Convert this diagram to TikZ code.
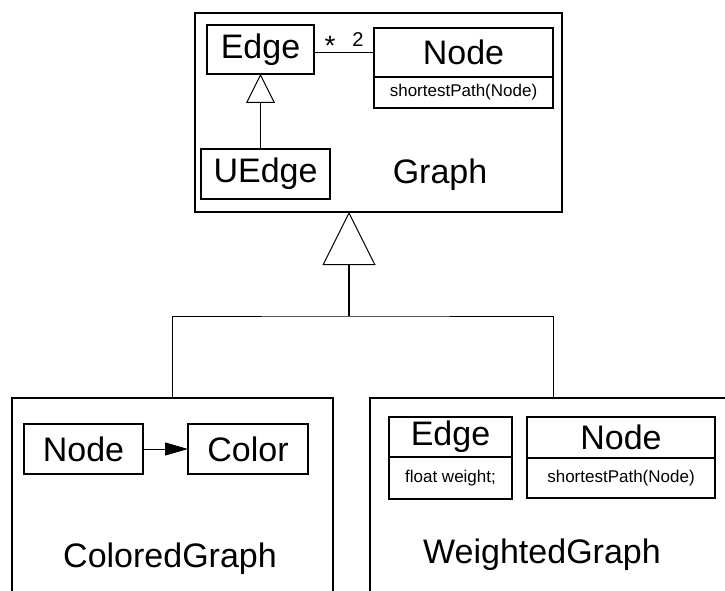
\documentclass[tikz,border=0pt]{standalone}
\usepackage{fontspec}
\setmainfont{Liberation Sans}
\usetikzlibrary{arrows.meta,positioning}

\begin{document}
\begin{tikzpicture}[x=1pt,y=-1pt]
  \tikzset{ContainerStyle/.style = {
    shape         = rectangle,
    draw          = black,
    line width    = 1.8pt,
    inner sep     = 0pt,
    outer sep     = 0pt
    }
  }
  \tikzset{ClassStyle/.style = {
    shape         = rectangle,
    draw          = black,
    fill          = white,
    line width    = 1.5pt,
    text          = black,
    inner sep     = 0pt,
    outer sep     = 0pt,
    font          = \fontsize{34}{38}\selectfont
    }
  }
  \tikzset{CompartmentStyle/.style = {
    ClassStyle,
    font          = \fontsize{17}{20}\selectfont
    }
  }
  \tikzset{TitleStyle/.style = {
    anchor        = base,
    inner sep     = 0pt,
    font          = \fontsize{34}{38}\selectfont
    }
  }
  \tikzset{LinkStyle/.style = {
    draw          = black,
    line width    = 1pt
    }
  }
  \tikzset{InheritStyle/.style = {
    draw          = black,
    line width    = 1.5pt,
    -{Triangle[open, length=#1, width=#1, line width=1pt]}
    }
  }

  \clip (0,0) rectangle (725,591);

  % Graph
  \node[ContainerStyle, minimum width=367, minimum height=199](graph) at (378.5, 112.5) {};
  \node[TitleStyle](graphT) at (440, 183) {Graph};
  \node[ClassStyle, minimum width=107, minimum height=49](gEdge) at (260.5, 49.5) {Edge};
  \node[ClassStyle, minimum width=129, minimum height=50](gUEdge) at (265.5, 174) {UEdge};
  \node[ClassStyle, minimum width=179, minimum height=49](gNode) at (463.5, 52.5) {Node};
  \node[CompartmentStyle, minimum width=179, minimum height=31, below=0pt of gNode](gNodeOps) {shortestPath(Node)};
  \draw[InheritStyle=29pt](gUEdge.north -| gEdge.south) to (gEdge.south);
  \draw[LinkStyle](gEdge.east |- gNode.west) to (gNode.west);
  \node[font=\fontsize{28}{30}\selectfont, inner sep=0pt](many) at (330, 46) {*};
  \node[font=\fontsize{20}{24}\selectfont, inner sep=0pt](two) at (358, 40) {2};

  % ColoredGraph
  \node[ContainerStyle, minimum width=321, minimum height=242](colored) at (172.5, 519) {};
  \node[TitleStyle](coloredT) at (170, 567) {ColoredGraph};
  \node[ClassStyle, minimum width=119, minimum height=50](cNode) at (83.5, 449) {Node};
  \node[ClassStyle, minimum width=120, minimum height=50](cColor) at (248, 449) {Color};
  \draw[LinkStyle, -{Triangle[length=23pt, width=13pt]}](cNode) to (cColor);

  % WeightedGraph
  \node[ContainerStyle, minimum width=366, minimum height=242](weighted) at (553, 519) {};
  \node[TitleStyle](weightedT) at (542, 563) {WeightedGraph};
  \node[ClassStyle, minimum width=123, minimum height=40](wEdge) at (450.5, 437) {Edge};
  \node[CompartmentStyle, minimum width=123, minimum height=42, below=0pt of wEdge](wEdgeAttr) {float weight;};
  \node[ClassStyle, minimum width=188, minimum height=41](wNode) at (621, 437.5) {Node};
  \node[CompartmentStyle, minimum width=188, minimum height=40, below=0pt of wNode](wNodeOps) {shortestPath(Node)};

  % inheritance tree
  \coordinate (fork) at (349, 316);
  \draw[InheritStyle=53pt](fork) to (fork |- graph.south);
  \draw[LinkStyle](colored.north) |- (fork) -| (weighted.north);
\end{tikzpicture}
\end{document}
